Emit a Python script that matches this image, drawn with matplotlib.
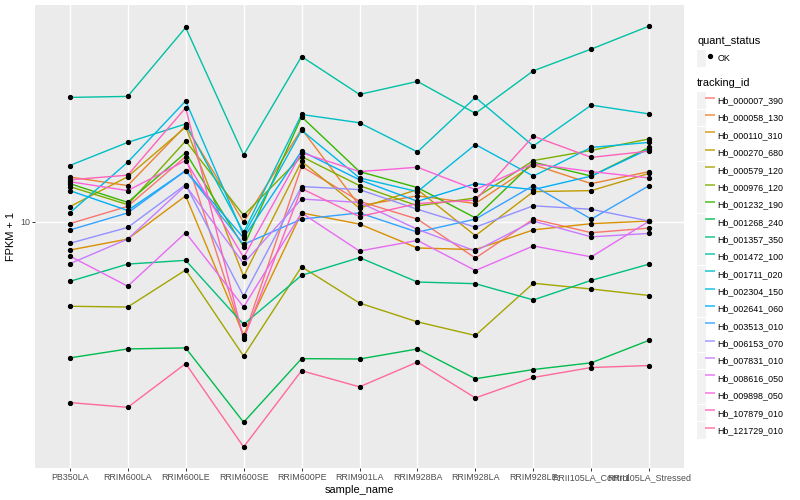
import numpy as np
import matplotlib
matplotlib.use("Agg")
import matplotlib.pyplot as plt
from matplotlib.lines import Line2D
from matplotlib.patches import Patch
from matplotlib.legend_handler import HandlerTuple
from matplotlib.ticker import NullLocator

plt.rcParams['font.family'] = ['Liberation Sans', 'DejaVu Sans']

samples = ["PB350LA", "RRIM600LA", "RRIM600LE", "RRIM600SE", "RRIM600PE",
           "RRIM901LA", "RRIM928BA", "RRIM928LA", "RRIM928LE",
           "RRII105LA_Control", "RRII105LA_Stressed"]

# FPKM + 1 per gene, one value per sample
Hb_000007_390 = [9.85, 11.25, 16.5, 4.11, 15.3, 11.7, 10.2, 7.56, 10.2, 9.19, 9.52]
Hb_000058_130 = [14.1, 13.2, 20.9, 9.97, 20.4, 11.3, 12.2, 11.5, 15.5, 13.4, 14.7]
Hb_000110_310 = [8.04, 8.75, 12.2, 4.18, 10.7, 9.82, 8.17, 8.07, 9.39, 9.85, 10.05]
Hb_000270_680 = [11.22, 14.13, 20.7, 6.57, 15.9, 11.1, 12.8, 8.98, 12.6, 12.7, 14.5]
Hb_000579_120 = [5.22, 5.19, 6.90, 3.56, 7.07, 5.35, 4.63, 4.17, 6.23, 5.96, 5.67]
Hb_000976_120 = [13.1, 11.4, 18.6, 10.5, 16.5, 13.2, 11.3, 12.0, 16.0, 17.3, 18.9]
Hb_001232_190 = [13.4, 11.6, 17.0, 8.25, 22.4, 14.7, 13.0, 10.3, 15.8, 14.2, 17.7]
Hb_001268_240 = [3.51, 3.76, 3.79, 2.14, 3.49, 3.48, 3.76, 2.99, 3.21, 3.38, 4.02]
Hb_001357_350 = [6.32, 7.22, 7.43, 4.54, 6.62, 7.59, 6.29, 6.21, 5.48, 6.37, 7.22]
Hb_001472_100 = [26.0, 26.2, 44.5, 16.7, 35.6, 26.6, 29.4, 23.0, 31.9, 37.7, 45.0]
Hb_001711_020 = [15.4, 18.4, 21.2, 9.21, 22.8, 21.4, 17.1, 26.0, 17.9, 24.5, 22.9]
Hb_002304_150 = [10.7, 15.8, 25.3, 9.00, 20.2, 14.0, 12.6, 18.1, 14.2, 17.7, 18.4]
Hb_002641_060 = [12.7, 10.9, 14.8, 8.83, 17.2, 13.8, 11.7, 13.4, 12.8, 14.2, 17.5]
Hb_003513_010 = [9.38, 10.7, 14.8, 8.40, 10.2, 10.7, 9.23, 10.2, 13.2, 10.2, 13.2]
Hb_006153_070 = [8.47, 9.57, 13.3, 5.64, 13.1, 12.8, 11.0, 9.59, 11.3, 11.0, 10.05]
Hb_007831_010 = [7.24, 8.75, 13.2, 7.26, 11.9, 11.6, 9.43, 7.98, 10.05, 8.90, 9.14]
Hb_008616_050 = [7.68, 6.09, 9.19, 5.19, 10.7, 7.98, 8.66, 6.87, 8.30, 7.63, 10.05]
Hb_009898_050 = [13.6, 12.7, 16.0, 7.60, 17.0, 14.7, 15.2, 12.8, 15.6, 14.7, 14.0]
Hb_107879_010 = [13.8, 14.3, 24.0, 4.05, 12.9, 10.4, 11.5, 11.8, 19.3, 16.4, 17.2]
Hb_121729_010 = [2.49, 2.40, 3.36, 1.77, 3.18, 2.81, 3.40, 2.58, 3.02, 3.26, 3.31]

tracking_ids = ["Hb_000007_390", "Hb_000058_130", "Hb_000110_310", "Hb_000270_680",
                "Hb_000579_120", "Hb_000976_120", "Hb_001232_190", "Hb_001268_240",
                "Hb_001357_350", "Hb_001472_100", "Hb_001711_020", "Hb_002304_150",
                "Hb_002641_060", "Hb_003513_010", "Hb_006153_070", "Hb_007831_010",
                "Hb_008616_050", "Hb_009898_050", "Hb_107879_010", "Hb_121729_010"]
series = [Hb_000007_390, Hb_000058_130, Hb_000110_310, Hb_000270_680,
          Hb_000579_120, Hb_000976_120, Hb_001232_190, Hb_001268_240,
          Hb_001357_350, Hb_001472_100, Hb_001711_020, Hb_002304_150,
          Hb_002641_060, Hb_003513_010, Hb_006153_070, Hb_007831_010,
          Hb_008616_050, Hb_009898_050, Hb_107879_010, Hb_121729_010]


def hcl_color(h, c=100.0, l=65.0):
    # polar Luv -> sRGB, same as R's hcl()
    hr = np.radians(h)
    u, v = c * np.cos(hr), c * np.sin(hr)
    xn, yn, zn = 95.047, 100.0, 108.883
    un = 4 * xn / (xn + 15 * yn + 3 * zn)
    vn = 9 * yn / (xn + 15 * yn + 3 * zn)
    Y = yn * ((l + 16) / 116) ** 3
    up = u / (13 * l) + un
    vp = v / (13 * l) + vn
    X = Y * 9 * up / (4 * vp)
    Z = Y * (12 - 3 * up - 20 * vp) / (4 * vp)
    m = np.array([[3.2404542, -1.5371385, -0.4985314],
                  [-0.9692660, 1.8760108, 0.0415560],
                  [0.0556434, -0.2040259, 1.0572252]])
    rgb = m @ (np.array([X, Y, Z]) / 100.0)
    rgb = np.where(rgb > 0.0031308, 1.055 * np.abs(rgb) ** (1 / 2.4) - 0.055, 12.92 * rgb)
    return tuple(np.clip(rgb, 0, 1))


n = len(tracking_ids)
hues = np.linspace(15, 375, n + 1)[:-1]
colors = [hcl_color(h) for h in hues]

fig = plt.figure(figsize=(8, 5), dpi=100)
ax = fig.add_axes([35 / 800, 1 - 468 / 500, 649 / 800, 463 / 500])
ax.set_facecolor('#EBEBEB')
for s in ax.spines.values():
    s.set_visible(False)

x = np.arange(len(samples))
for vals, col in zip(series, colors):
    ax.plot(x, vals, color=col, lw=1.0, zorder=3)
for vals in series:
    ax.plot(x, vals, ls='none', marker='o', ms=2.8, color='black', zorder=4)

ax.set_yscale('log')
allv = np.log10(np.concatenate([np.array(v) for v in series]))
lo, hi = allv.min(), allv.max()
pad = 0.05 * (hi - lo)
ax.set_ylim(10 ** (lo - pad), 10 ** (hi + pad))
ax.set_yticks([10])
ax.set_yticklabels(['10'])
ax.yaxis.set_minor_locator(NullLocator())
ax.set_xlim(-0.6, len(samples) - 0.4)
ax.set_xticks(x)
ax.set_xticklabels(samples)
ax.grid(True, color='white', lw=1.0, zorder=0)
ax.set_axisbelow(True)
ax.tick_params(axis='both', length=2.0, width=0.7, color='#333333',
               labelsize=6.4, labelcolor='#4D4D4D', pad=1.6)
ax.set_xlabel('sample_name', fontsize=7.9, labelpad=2)
ax.set_ylabel('FPKM + 1', fontsize=7.9, labelpad=3)

# legends
key = Patch(facecolor='#F2F2F2', edgecolor='none')
hmap = {tuple: HandlerTuple(ndivide=None)}
dot = Line2D([], [], ls='none', marker='o', ms=2.8, color='black')
common = dict(loc='upper left', frameon=False, fontsize=6.4, title_fontsize=7.9,
              handlelength=1.95, handleheight=2.55, handletextpad=0.35,
              labelspacing=0.05, borderpad=0, borderaxespad=0,
              alignment='left', handler_map=hmap)
leg1 = fig.legend([(key, dot)], ['OK'], title='quant_status',
                  bbox_to_anchor=(697 / 800, 1 - 36 / 500), **common)
leg1._legend_box.sep = 3
handles = [(key, Line2D([], [], color=c, lw=1.4, alpha=0.7)) for c in colors]
leg2 = fig.legend(handles, tracking_ids, title='tracking_id',
                  bbox_to_anchor=(697 / 800, 1 - 78 / 500), **common)
leg2._legend_box.sep = 3

fig.savefig('out.png', dpi=100)
